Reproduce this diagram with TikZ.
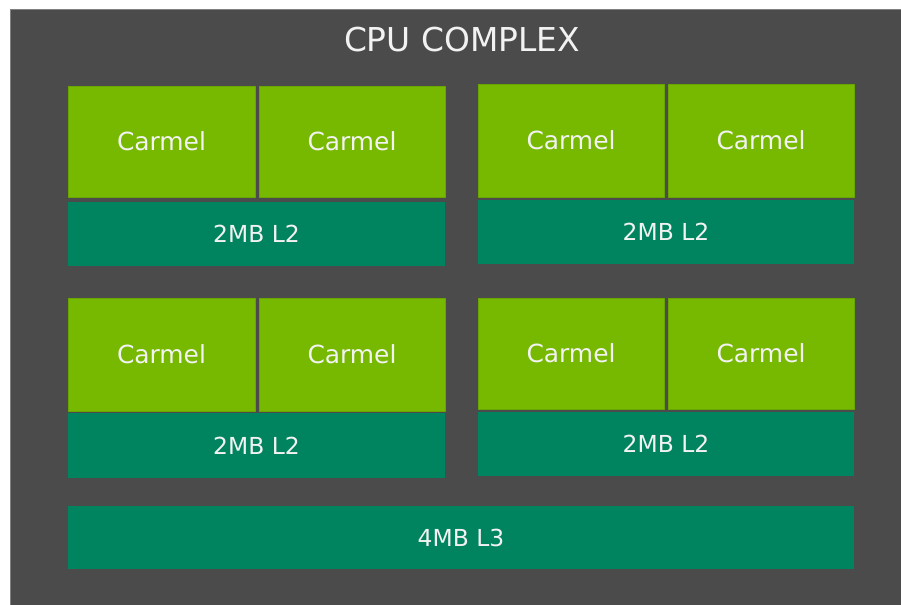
\documentclass[tikz,border=0pt]{standalone}
\usepackage{fontspec}
\setmainfont{DejaVu Sans}
\usetikzlibrary{positioning}
\definecolor{chipgray}{HTML}{4B4B4B}
\definecolor{coregreen}{HTML}{76B900}
\definecolor{cacheteal}{HTML}{00835F}
\definecolor{textwhite}{HTML}{F2F2F2}

\begin{document}
\begin{tikzpicture}[>=latex,line join=bevel,
  core/.style={fill=coregreen,draw=coregreen!90!black,line width=0.8bp,inner sep=0pt,
    minimum width=187bp,minimum height=112bp,text=textwhite,font=\fontsize{25}{30}\selectfont},
  cache/.style={fill=cacheteal,draw=none,inner sep=0pt,
    minimum width=377bp,minimum height=64bp,text=textwhite,font=\fontsize{23.5}{28}\selectfont},
  ]
\useasboundingbox (0bp,0bp) rectangle (901bp,-605bp);
\fill[white] (0bp,0bp) rectangle (901bp,-605bp);
\fill[chipgray] (10bp,-9bp) rectangle (901bp,-605bp);
\draw[chipgray!70!white,line width=1bp] (10.5bp,-605bp) -- (10.5bp,-9.5bp) -- (901bp,-9.5bp);
%%
\node (title) at (462bp,-40bp) [text=textwhite,font=\fontsize{33}{38}\selectfont] {CPU COMPLEX};
%% upper left cluster
\node (node_0) at (161.5bp,-141.5bp) [core,minimum height=111bp] {Carmel};
  \node (node_1) at (352bp,-141.5bp) [core,minimum width=186bp,minimum height=111bp] {Carmel};
  \node (l2_0) at (256.5bp,-234bp) [cache] {2MB L2};
%% upper right cluster
\node (node_2) at (571bp,-140.5bp) [core,minimum width=186bp,minimum height=113bp] {Carmel};
  \node (node_3) at (761bp,-140.5bp) [core,minimum width=186bp,minimum height=113bp] {Carmel};
  \node (l2_1) at (666bp,-232bp) [cache,minimum width=376bp] {2MB L2};
%% lower left cluster
\node (node_4) at (161.5bp,-354.5bp) [core,minimum height=113bp] {Carmel};
  \node (node_5) at (352bp,-354.5bp) [core,minimum width=186bp,minimum height=113bp] {Carmel};
  \node (l2_2) at (256.5bp,-445.5bp) [cache,minimum height=65bp] {2MB L2};
%% lower right cluster
\node (node_6) at (571bp,-353.5bp) [core,minimum width=186bp,minimum height=111bp] {Carmel};
  \node (node_7) at (761bp,-353.5bp) [core,minimum width=186bp,minimum height=111bp] {Carmel};
  \node (l2_3) at (666bp,-444bp) [cache,minimum width=376bp] {2MB L2};
%%
\node (l3) at (461bp,-537.5bp) [cache,minimum width=786bp,minimum height=63bp] {4MB L3};
%
\end{tikzpicture}
\end{document}
